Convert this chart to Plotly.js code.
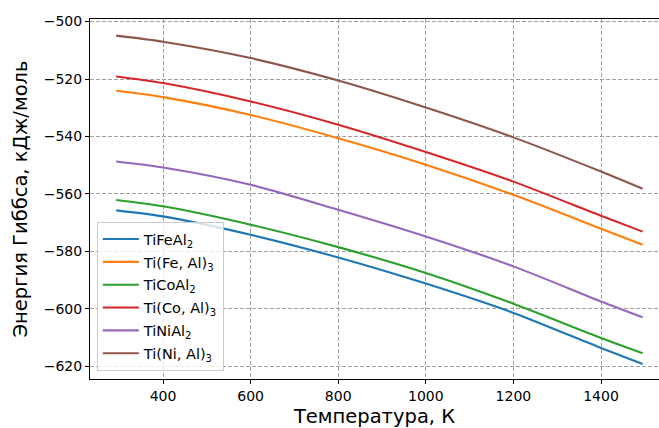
<!DOCTYPE html>
<html>
<head>
<meta charset="utf-8">
<script src="https://cdn.plot.ly/plotly-3.0.1.min.js"></script>
<style>
  html, body { margin: 0; padding: 0; background: #fff; }
  #chart { width: 659px; height: 428px; }
</style>
</head>
<body>
<div id="chart"></div>
<script>
// Temperatures, K
const temps = [293, 400, 600, 800, 1000, 1200, 1400, 1495];

// Gibbs energy, kJ/mol
const TiFeAl2  = [-565.7, -567.8, -574.2, -582.1, -591.2, -601.4, -613.6, -619.2];
const TiFeAl3  = [-524.1, -526.3, -532.5, -540.6, -549.8, -560.3, -572.1, -577.7];
const TiCoAl2  = [-562.1, -564.3, -570.7, -578.5, -587.5, -598.2, -610.1, -615.4];
const TiCoAl3  = [-519.1, -521.4, -527.8, -535.9, -545.4, -555.7, -567.6, -573.1];
const TiNiAl2  = [-548.7, -550.8, -556.8, -565.5, -574.8, -585.2, -597.4, -602.9];
const TiNiAl3  = [-504.9, -507.0, -512.7, -520.5, -529.9, -540.3, -552.2, -558.2];

const seriesNames = ["TiFeAl<sub>2</sub>", "Ti(Fe, Al)<sub>3</sub>", "TiCoAl<sub>2</sub>",
                     "Ti(Co, Al)<sub>3</sub>", "TiNiAl<sub>2</sub>", "Ti(Ni, Al)<sub>3</sub>"];
const seriesValues = [TiFeAl2, TiFeAl3, TiCoAl2, TiCoAl3, TiNiAl2, TiNiAl3];
const colors = ["#1f77b4", "#ff7f0e", "#2ca02c", "#d62728", "#9467bd", "#8c564b"];

const xTicks = [400, 600, 800, 1000, 1200, 1400];
const yTicks = [-500, -520, -540, -560, -580, -600, -620];

const traces = seriesValues.map((vals, i) => ({
  type: "scatter",
  mode: "lines",
  x: temps,
  y: vals,
  name: seriesNames[i],
  legendgroup: "g" + i,
  line: { color: colors[i], width: 2.1, shape: "spline", smoothing: 0.8 }
}));

const font = "DejaVu Sans, sans-serif";

const layout = {
  width: 659,
  height: 428,
  margin: { l: 90, r: 0, t: 19, b: 49 },
  paper_bgcolor: "#ffffff",
  plot_bgcolor: "#ffffff",
  font: { family: font, size: 14, color: "#000" },
  showlegend: true,
  legend: {
    x: 0.012, y: 0.022, xanchor: "left", yanchor: "bottom",
    bgcolor: "rgba(255,255,255,0.8)",
    bordercolor: "#cccccc", borderwidth: 1,
    traceorder: "grouped", tracegroupgap: 1,
    itemwidth: 36,
    font: { family: font, size: 14.5, color: "#000" }
  },
  xaxis: {
    range: [233.3, 1532.4],
    tickvals: xTicks,
    ticktext: xTicks.map(String),
    ticks: "outside", ticklen: 4, tickwidth: 1, tickcolor: "#000",
    showline: true, linecolor: "#000", linewidth: 1, mirror: true,
    showgrid: true, gridcolor: "#a0a0a0", gridwidth: 1, griddash: "4px,2px",
    zeroline: false,
    tickfont: { family: font, size: 14, color: "#000" },
    title: { text: "Температура, К", font: { family: font, size: 19.5, color: "#000" }, standoff: 8 }
  },
  yaxis: {
    range: [-624.4, -499.1],
    tickvals: yTicks,
    ticktext: yTicks.map(v => "\u2212" + Math.abs(v)),
    ticks: "outside", ticklen: 4, tickwidth: 1, tickcolor: "#000",
    showline: true, linecolor: "#000", linewidth: 1, mirror: false,
    showgrid: true, gridcolor: "#a0a0a0", gridwidth: 1, griddash: "4px,2px",
    zeroline: false,
    tickfont: { family: font, size: 14, color: "#000" },
    title: { text: "Энергия Гиббса, кДж/моль", font: { family: font, size: 19.5, color: "#000" }, standoff: 10 }
  }
};

Plotly.newPlot("chart", traces, layout, { staticPlot: true, displayModeBar: false });
</script>
</body>
</html>
